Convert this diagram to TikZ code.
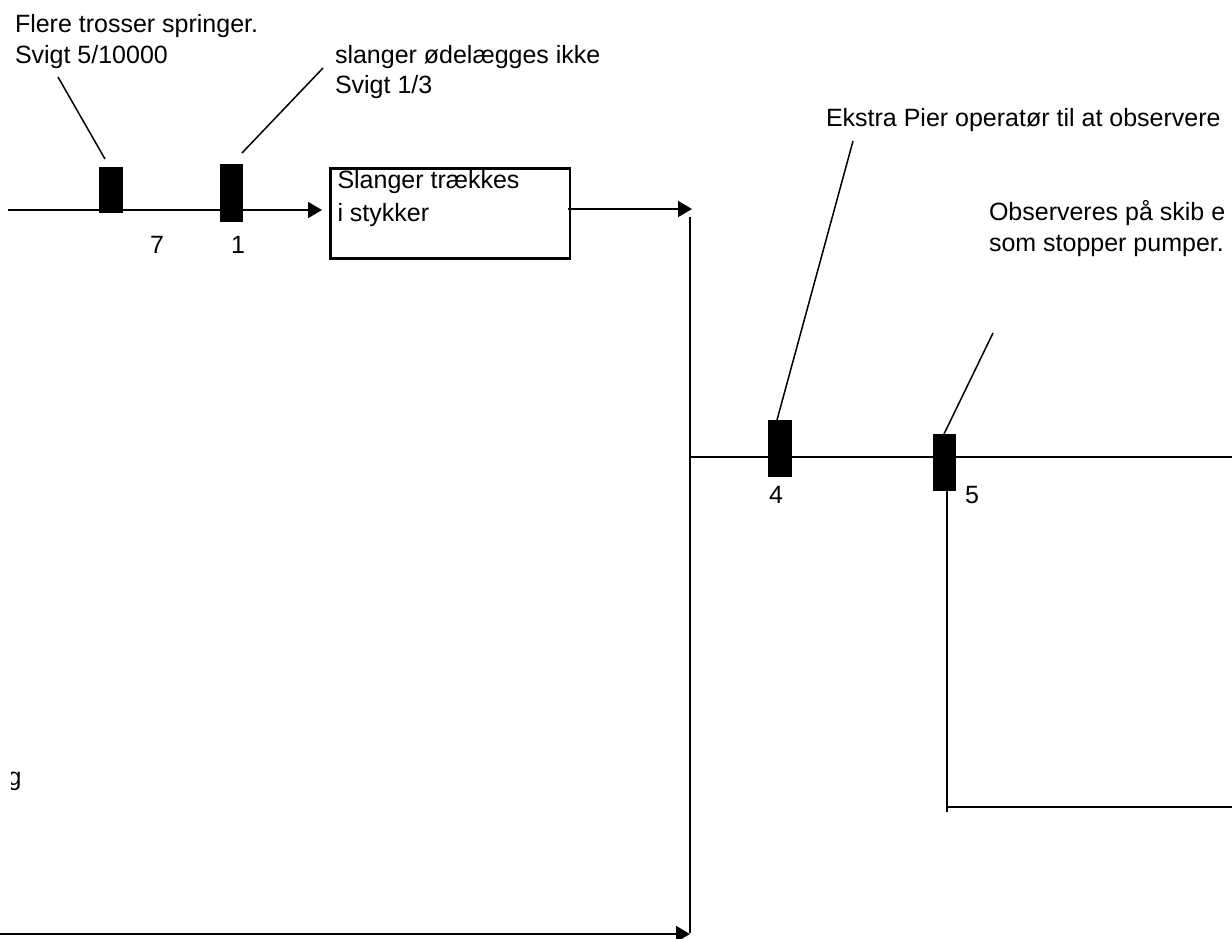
\documentclass[tikz,border=0pt]{standalone}
\usepackage{fontspec}
\setmainfont{Liberation Sans}
\usetikzlibrary{arrows.meta,calc,backgrounds}
\begin{document}
\begin{tikzpicture}[x=1pt,y=-1pt,
  every node/.style={inner sep=0pt, outer sep=0pt},
  txt/.style={anchor=base west, font=\fontsize{25}{31}\selectfont},
  num/.style={anchor=base, font=\fontsize{25}{31}\selectfont},
  valve/.style={fill=black, minimum width=24pt},
  flow/.style={line width=1.7pt},
  leader/.style={line width=1.5pt},
  tip/.style={-{Triangle[length=14pt,width=16pt]}},
]
\useasboundingbox (0,0) rectangle (1232,938);

% barriers on the flow lines
\node[valve, minimum height=46pt] (v7) at (111,190) {};
\node[valve, minimum width=23pt, minimum height=58pt] (v1) at (231.5,193) {};
\node[valve, minimum height=57pt] (v4) at (780,448.5) {};
\node[valve, minimum width=23pt, minimum height=57pt] (v5) at (944,462.5) {};

% event box
\node[draw, line width=2.6pt, anchor=north west, inner xsep=7pt, inner ysep=0pt]
  (box) at (330.5,168.5)
  {\parbox[c][90pt][t]{225.5pt}{\fontsize{25}{33}\selectfont\vspace*{2pt}Slanger trækkes\\i stykker}};

% numbers under the barriers
\node[num] (n7) at (157,253) {7};
\node[num] (n1) at (238,253) {1};
\node[num] (n4) at (776,503) {4};
\node[num] (n5) at (972,503) {5};

% annotations
\node[txt] (fa) at (15,32) {Flere trosser springer.};
\node[txt] (fb) at (15,63) {Svigt 5/10000};
\node[txt] (sa) at (335,63) {slanger ødelægges ikke};
\node[txt] (sb) at (335,93) {Svigt 1/3};
\node[txt] (ea) at (826,126) {Ekstra Pier operatør til at observere};
\node[txt] (oa) at (989,220) {Observeres på skib e};
\node[txt] (ob) at (989,251) {som stopper pumper.};
\begin{scope}
  \clip (11,750) rectangle (40,800);
  \node[txt] (g) at (7.5,785) {g};
\end{scope}

% end points of the lines
\coordinate (in) at (8,210);
\coordinate (jin) at (692,209);
\coordinate (jtop) at (690,217);
\coordinate (jbot) at (690,933);
\coordinate (bin) at (0,934);
\coordinate (mend) at (1232,457);
\coordinate (c5) at (947,812);
\coordinate (e5) at (1232,807);
\coordinate (lf1) at (58,77);
\coordinate (lf2) at (105,159);
\coordinate (ls1) at (323,68);
\coordinate (ls2) at (242,153);
\coordinate (le1) at (853,141);
\coordinate (lo1) at (993,333);

\begin{scope}[on background layer]
  \draw[flow,tip,shorten >=8.5pt] (in) -- (in -| box.west);
  \draw[flow,tip] ($(box.east)+(-2,-4.5)$) -- (jin);
  \draw[flow] (jtop) -- (jbot);
  \draw[flow,tip] (bin) -- (bin -| jbot);
  \draw[flow] (jtop |- mend) -- (mend);
  \draw[flow] (v5.south -| c5) -- (c5);
  \draw[flow] (c5 |- e5) -- (e5);
\end{scope}

% leader lines from the annotations
\draw[leader] (lf1) -- (lf2);
\draw[leader] (ls1) -- (ls2);
\draw[leader] (le1) -- ([xshift=-3pt]v4.north);
\draw[leader] (lo1) -- (v5.north);
\end{tikzpicture}
\end{document}
